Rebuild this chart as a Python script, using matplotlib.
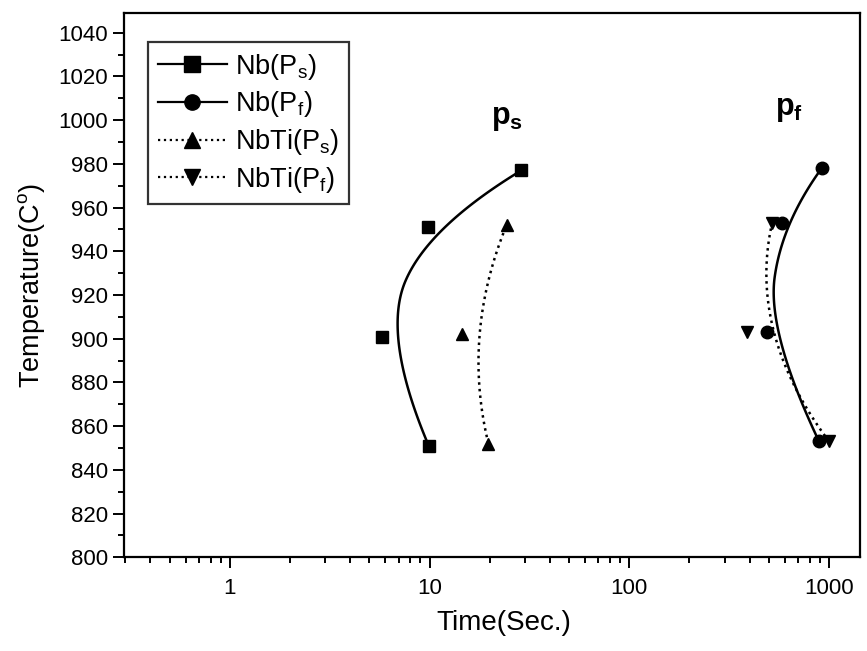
import numpy as np
import matplotlib
matplotlib.use('Agg')
import matplotlib.pyplot as plt
from matplotlib.ticker import LogLocator, MultipleLocator, NullFormatter, FixedLocator, FixedFormatter

plt.rcParams['font.family'] = ['Liberation Sans', 'DejaVu Sans']
plt.rcParams['mathtext.fontset'] = 'custom'
plt.rcParams['mathtext.rm'] = 'Liberation Sans'
plt.rcParams['mathtext.it'] = 'Liberation Sans'
plt.rcParams['mathtext.bf'] = 'Liberation Sans:bold'

# data (temperature in C, time in s)
temp_nb_ps = [851, 901, 951, 977]
time_nb_ps = [9.9, 5.8, 9.8, 28.8]
temp_nb_pf = [853, 903, 953, 978]
time_nb_pf = [891, 490, 582, 919]
temp_nbti_ps = [852, 902, 952]
time_nbti_ps = [19.7, 14.5, 24.3]
temp_nbti_pf = [853, 903, 953]
time_nbti_pf = [1000, 390, 519]

xticks = [1, 10, 100, 1000]
xticklabels = ['1', '10', '100', '1000']


def bspline2(t, T, num=60):
    # quadratic clamped B-spline using the points as control polygon (log time)
    P = np.column_stack([np.log10(t), T]).astype(float)
    mids = (P[1:-2] + P[2:-1]) / 2
    starts = [P[0]] + list(mids)
    ends = list(mids) + [P[-1]]
    ctrls = P[1:-1]
    s = np.linspace(0, 1, num)[:, None]
    pts = []
    for a, b, c in zip(starts, ctrls, ends):
        pts.append((1 - s) ** 2 * a + 2 * s * (1 - s) * b + s ** 2 * c)
    pts = np.vstack(pts)
    return 10 ** pts[:, 0], pts[:, 1]


fig = plt.figure(figsize=(8.67, 6.51), dpi=100)
ax = fig.add_axes([0.143, 0.144, 0.849, 0.836])

series = [
    (time_nb_ps, temp_nb_ps, 's', '-', r'Nb(P$_s$)'),
    (time_nb_pf, temp_nb_pf, 'o', '-', r'Nb(P$_f$)'),
    (time_nbti_ps, temp_nbti_ps, '^', ':', r'NbTi(P$_s$)'),
    (time_nbti_pf, temp_nbti_pf, 'v', ':', r'NbTi(P$_f$)'),
]
handles = []
for t, T, m, ls, lab in series:
    cx, cy = bspline2(t, T)
    ax.plot(cx, cy, color='black', ls=ls, lw=1.8)
    ax.plot(t, T, ls='none', marker=m, color='black', ms=9)
    h, = ax.plot([], [], color='black', ls=ls, lw=1.6, marker=m, ms=11, label=lab)
    handles.append(h)

ax.set_xscale('log')
ax.set_xlim(0.295, 1430)
ax.set_ylim(800, 1049)

ax.xaxis.set_major_locator(FixedLocator(xticks))
ax.xaxis.set_major_formatter(FixedFormatter(xticklabels))
ax.xaxis.set_minor_locator(LogLocator(base=10, subs=np.arange(2, 10)))
ax.xaxis.set_minor_formatter(NullFormatter())
ax.yaxis.set_major_locator(MultipleLocator(20))
ax.yaxis.set_minor_locator(MultipleLocator(10))

ax.tick_params(which='both', direction='out', top=False, right=False, width=1.4, labelsize=16)
ax.tick_params(which='major', length=8)
ax.tick_params(which='minor', length=4.5)
ax.tick_params(axis='x', which='major', pad=7)
for sp in ax.spines.values():
    sp.set_linewidth(1.6)

ax.set_xlabel('Time(Sec.)', fontsize=20, labelpad=8, x=0.516)
ax.set_ylabel('Temperature(C$^o$)', fontsize=19.5, labelpad=8)

ax.text(24.3, 1001, r'$\mathbf{p_s}$', fontsize=22, ha='center', va='center')
ax.text(631, 1005, r'$\mathbf{p_f}$', fontsize=22, ha='center', va='center')

leg = ax.legend(handles=handles, loc='upper left', bbox_to_anchor=(0.033, 0.946),
                fontsize=19.5, handlelength=2.55, handletextpad=0.3, labelspacing=0.28,
                frameon=True, fancybox=False, borderpad=0.35, borderaxespad=0)
leg.get_frame().set_edgecolor('black')
leg.get_frame().set_linewidth(1.6)

fig.savefig('out.png', dpi=100)
